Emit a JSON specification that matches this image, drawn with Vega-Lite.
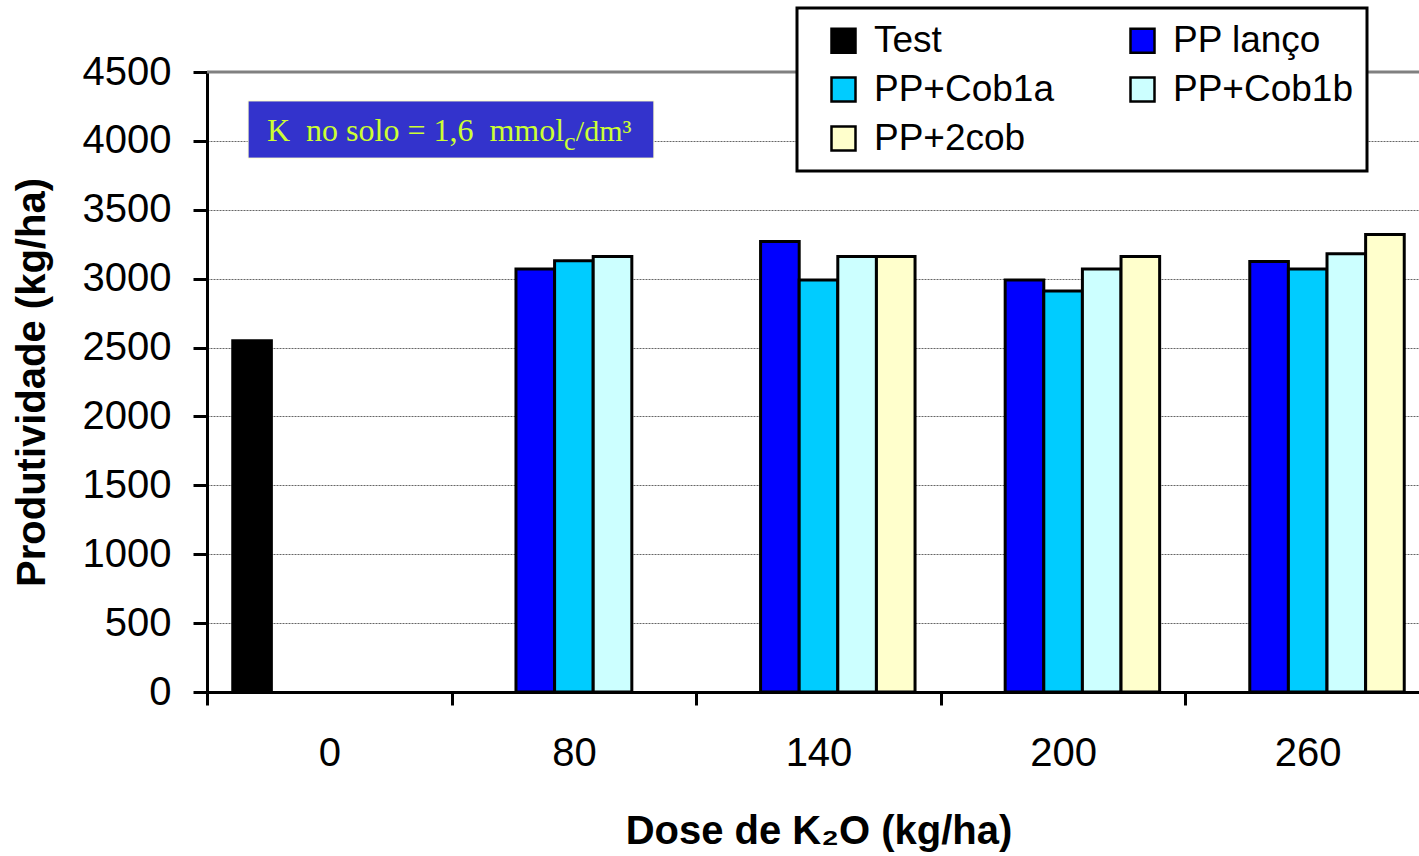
{
  "$schema": "https://vega.github.io/schema/vega-lite/v6.json",
  "width": 1223,
  "height": 620,
  "autosize": "none",
  "padding": {"left": 207, "top": 72, "right": 0, "bottom": 164},
  "background": "white",
  "config": {
    "font": "Liberation Sans",
    "view": {"stroke": null},
    "axis": {"labelColor": "black", "titleColor": "black"},
    "legend": {"strokeWidth": 3}
  },
  "datasets": {
    "produtividade": [
      {"dose": 0, "trat": "Test", "kg": 2550},
      {"dose": 80, "trat": "PP lanço", "kg": 3070},
      {"dose": 80, "trat": "PP+Cob1a", "kg": 3130},
      {"dose": 80, "trat": "PP+Cob1b", "kg": 3160},
      {"dose": 140, "trat": "PP lanço", "kg": 3270},
      {"dose": 140, "trat": "PP+Cob1a", "kg": 2990},
      {"dose": 140, "trat": "PP+Cob1b", "kg": 3160},
      {"dose": 140, "trat": "PP+2cob", "kg": 3160},
      {"dose": 200, "trat": "PP lanço", "kg": 2990},
      {"dose": 200, "trat": "PP+Cob1a", "kg": 2910},
      {"dose": 200, "trat": "PP+Cob1b", "kg": 3070},
      {"dose": 200, "trat": "PP+2cob", "kg": 3160},
      {"dose": 260, "trat": "PP lanço", "kg": 3125},
      {"dose": 260, "trat": "PP+Cob1a", "kg": 3070},
      {"dose": 260, "trat": "PP+Cob1b", "kg": 3180},
      {"dose": 260, "trat": "PP+2cob", "kg": 3320}
    ],
    "anotacao": [{}]
  },
  "layer": [
    {
      "data": {"name": "produtividade"},
      "mark": {"type": "bar", "stroke": "black", "strokeWidth": 3, "strokeJoin": "miter"},
      "encoding": {
        "x": {
          "field": "dose",
          "type": "ordinal",
          "scale": {"domain": [0, 80, 140, 200, 260], "paddingInner": 0, "paddingOuter": 0},
          "axis": {
            "tickBand": "extent",
            "labelAngle": 0,
            "labelFontSize": 40,
            "labelPadding": 28,
            "domainColor": "black",
            "domainWidth": 3,
            "tickColor": "black",
            "tickWidth": 3,
            "tickSize": 13,
            "titleFontSize": 40,
            "titleFontWeight": "bold",
            "titlePadding": 38
          },
          "title": "Dose de K₂O (kg/ha)"
        },
        "xOffset": {
          "field": "trat",
          "type": "nominal",
          "scale": {
            "domain": ["Test", "PP lanço", "PP+Cob1a", "PP+Cob1b", "PP+2cob"],
            "paddingInner": 0,
            "paddingOuter": 0.667
          }
        },
        "y": {
          "field": "kg",
          "type": "quantitative",
          "scale": {"domain": [0, 4500], "nice": false},
          "axis": {
            "values": [0, 500, 1000, 1500, 2000, 2500, 3000, 3500, 4000, 4500],
            "format": "d",
            "labelFontSize": 40,
            "labelPadding": 22,
            "domainColor": "black",
            "domainWidth": 3,
            "tickColor": "black",
            "tickWidth": 3,
            "tickSize": 14,
            "grid": true,
            "gridColor": "#666666",
            "gridDash": [2, 1],
            "gridWidth": 1,
            "titleFontSize": 40,
            "titleFontWeight": "bold",
            "titlePadding": 30
          },
          "title": "Produtividade (kg/ha)"
        },
        "color": {
          "field": "trat",
          "type": "nominal",
          "scale": {
            "domain": ["Test", "PP lanço", "PP+Cob1a", "PP+Cob1b", "PP+2cob"],
            "range": ["#000000", "#0000ff", "#00ccff", "#ccffff", "#ffffcc"]
          },
          "legend": {
            "title": null,
            "orient": "none",
            "legendX": 590,
            "legendY": -64,
            "direction": "horizontal",
            "columns": 2,
            "padding": 14,
            "fillColor": "white",
            "strokeColor": "black",
            "symbolType": "square",
            "symbolSize": 576,
            "symbolStrokeColor": "black",
            "symbolStrokeWidth": 2.5,
            "symbolOffset": 14,
            "labelFont": "Liberation Sans",
            "labelFontSize": 37,
            "labelColor": "black",
            "labelLimit": 400,
            "labelOffset": 12,
            "rowPadding": 11,
            "columnPadding": 56
          }
        }
      }
    },
    {
      "data": {"name": "anotacao"},
      "mark": {"type": "rule", "color": "#808080", "strokeWidth": 3},
      "encoding": {"y": {"datum": 4500, "type": "quantitative"}}
    },
    {
      "data": {"name": "anotacao"},
      "mark": {"type": "rect", "fill": "#3333cc", "stroke": "#ffffcc", "strokeWidth": 1},
      "encoding": {
        "x": {"datum": 0.168, "type": "quantitative", "scale": {"domain": [0, 5], "nice": false, "zero": false}, "axis": null},
        "x2": {"datum": 1.827},
        "y": {"datum": 4290, "type": "quantitative"},
        "y2": {"datum": 3875}
      }
    },
    {
      "data": {"name": "anotacao"},
      "mark": {"type": "text", "font": "Liberation Serif", "fontSize": 32, "color": "#ccff33", "align": "left", "baseline": "alphabetic"},
      "encoding": {
        "x": {"datum": 0.245, "type": "quantitative", "scale": {"domain": [0, 5], "nice": false, "zero": false}, "axis": null},
        "y": {"datum": 4000, "type": "quantitative"},
        "text": {"value": "K\u00a0 no solo = 1,6\u00a0 mmol"}
      }
    },
    {
      "data": {"name": "anotacao"},
      "mark": {"type": "text", "font": "Liberation Serif", "fontSize": 26, "color": "#ccff33", "align": "left", "baseline": "alphabetic"},
      "encoding": {
        "x": {"datum": 1.46, "type": "quantitative", "scale": {"domain": [0, 5], "nice": false, "zero": false}, "axis": null},
        "y": {"datum": 3934, "type": "quantitative"},
        "text": {"value": "c"}
      }
    },
    {
      "data": {"name": "anotacao"},
      "mark": {"type": "text", "font": "Liberation Serif", "fontSize": 30, "color": "#ccff33", "align": "left", "baseline": "alphabetic"},
      "encoding": {
        "x": {"datum": 1.508, "type": "quantitative", "scale": {"domain": [0, 5], "nice": false, "zero": false}, "axis": null},
        "y": {"datum": 4000, "type": "quantitative"},
        "text": {"value": "/dm³"}
      }
    }
  ],
  "resolve": {"scale": {"x": "independent"}}
}
